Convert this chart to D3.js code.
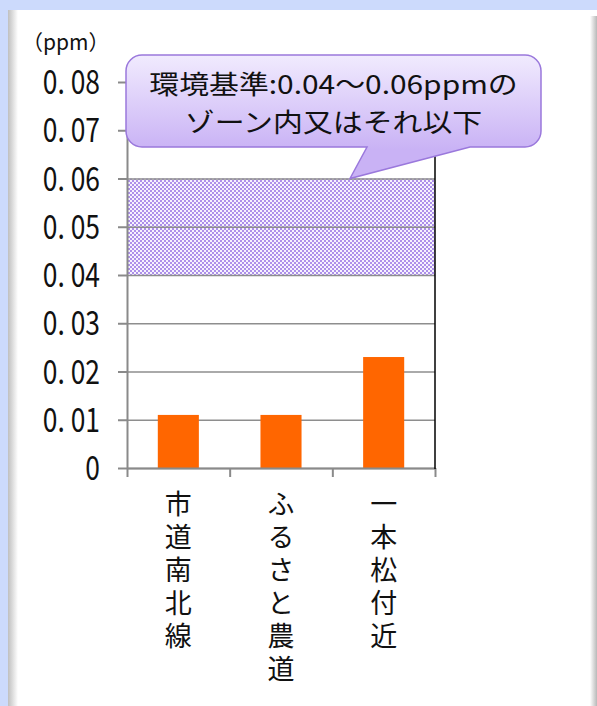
<!DOCTYPE html>
<html>
<head>
<meta charset="utf-8">
<script src="https://cdn.jsdelivr.net/npm/d3@7"></script>
<style>
  body { margin: 0; background: #ccdafc; }
  svg { display: block; }
  text { font-family: "Noto Sans CJK JP", "Noto Sans", sans-serif; fill: #111; }
  .vlabel { writing-mode: vertical-rl; text-orientation: upright; }
</style>
</head>
<body>
<div class="visContainer"></div>
<script>
// Data.
const categories = ['市道南北線', 'ふるさと農道', '一本松付近'];
const values = [0.011, 0.011, 0.023];
const yTicks = [0, 0.01, 0.02, 0.03, 0.04, 0.05, 0.06, 0.07, 0.08];
const zone = [0.04, 0.06];
const unitLabel = '（ppm）';
const noteLines = ['環境基準:0.04～0.06ppmの', 'ゾーン内又はそれ以下'];

// SVG constants.
const width = 597;
const height = 706;
const plot = { left: 127, right: 435, top: 82, bottom: 468 };

const svg = d3.select('.visContainer')
              .append('svg')
              .attr('width', width)
              .attr('height', height);

const defs = svg.append('defs');

// Checker pattern for the zone.
const pat = defs.append('pattern')
                .attr('id', 'checker')
                .attr('patternUnits', 'userSpaceOnUse')
                .attr('width', 4)
                .attr('height', 4);
pat.append('rect').attr('width', 4).attr('height', 4).attr('fill', '#f6f2fe');
pat.append('rect').attr('width', 2).attr('height', 2).attr('fill', '#ad90ea');
pat.append('rect').attr('x', 2).attr('y', 2).attr('width', 2).attr('height', 2).attr('fill', '#ad90ea');

// Callout gradient.
const grad = defs.append('linearGradient')
                 .attr('id', 'calloutGrad')
                 .attr('gradientUnits', 'userSpaceOnUse')
                 .attr('x1', 0).attr('x2', 0)
                 .attr('y1', 55).attr('y2', 150);
grad.append('stop').attr('offset', 0).attr('stop-color', '#f1ebfe');
grad.append('stop').attr('offset', 1).attr('stop-color', '#c9b2f5');

const shadowL = defs.append('linearGradient').attr('id', 'shadowL');
shadowL.append('stop').attr('offset', 0).attr('stop-color', '#bfbfbf');
shadowL.append('stop').attr('offset', 1).attr('stop-color', '#ffffff');

const shadowR = defs.append('linearGradient').attr('id', 'shadowR');
shadowR.append('stop').attr('offset', 0).attr('stop-color', '#ffffff');
shadowR.append('stop').attr('offset', 1).attr('stop-color', '#b8b8b8');

// Panel.
svg.append('rect').attr('x', 8).attr('y', 10).attr('width', width - 8).attr('height', height - 10).attr('fill', '#fff');
svg.append('rect').attr('x', 8).attr('y', 10).attr('width', 10).attr('height', height - 10).attr('fill', 'url(#shadowL)');
svg.append('rect').attr('x', 590).attr('y', 16).attr('width', 7).attr('height', height - 16).attr('fill', 'url(#shadowR)');

// Scales.
const x = d3.scaleBand()
            .domain(categories)
            .range([plot.left, plot.right])
            .paddingInner(0.6)
            .paddingOuter(0.3);

const y = d3.scaleLinear()
            .domain([0, 0.08])
            .range([plot.bottom, plot.top]);

// Zone.
svg.append('rect')
   .attr('x', plot.left)
   .attr('y', y(zone[1]))
   .attr('width', plot.right - plot.left)
   .attr('height', y(zone[0]) - y(zone[1]))
   .attr('fill', 'url(#checker)');

// Gridlines.
svg.append('g')
   .attr('transform', 'translate(' + plot.left + ',0)')
   .call(d3.axisLeft(y).tickValues(yTicks).tickSize(-(plot.right - plot.left)).tickFormat(''))
   .call(g => g.select('.domain').remove())
   .call(g => g.selectAll('line').attr('stroke', '#8e8e8e').attr('stroke-width', 1.5));

// Bars.
svg.append('g')
   .selectAll('rect')
   .data(values)
   .enter()
   .append('rect')
   .attr('x', (d, i) => x(categories[i]))
   .attr('y', (d) => y(d))
   .attr('width', x.bandwidth())
   .attr('height', (d) => y(0) - y(d))
   .attr('fill', '#ff6600');

// Y axis.
const fmt = (d) => d === 0 ? '0' : d.toFixed(2).replace('.', '. ');
const yAxis = svg.append('g')
   .attr('transform', 'translate(' + plot.left + ',0)')
   .call(d3.axisLeft(y).tickValues(yTicks).tickSize(9).tickSizeOuter(0).tickFormat(''));
yAxis.selectAll('path, line').attr('stroke', '#8a8a8a').attr('stroke-width', 2);

svg.append('g')
   .selectAll('text')
   .data(yTicks)
   .enter()
   .append('text')
   .attr('transform', (d) => 'translate(100,' + (y(d) + 12) + ') scale(0.8,1)')
   .attr('text-anchor', 'end')
   .style('font-size', '33px')
   .text(fmt);

// X axis (ticks at category boundaries).
const xb = d3.scaleLinear().domain([0, categories.length]).range([plot.left, plot.right]);
const xAxis = svg.append('g')
   .attr('transform', 'translate(0,' + plot.bottom + ')')
   .call(d3.axisBottom(xb).ticks(categories.length).tickSize(9).tickSizeOuter(0).tickFormat(''));
xAxis.selectAll('path, line').attr('stroke', '#8a8a8a').attr('stroke-width', 2);

// Right border.
svg.append('line')
   .attr('x1', plot.right).attr('x2', plot.right)
   .attr('y1', y(0.08)).attr('y2', y(0) + 1)
   .attr('stroke', '#000').attr('stroke-width', 1.5);

// Category labels, vertical.
svg.append('g')
   .selectAll('text')
   .data(categories)
   .enter()
   .append('text')
   .attr('class', 'vlabel')
   .attr('x', (d) => x(d) + x.bandwidth() / 2)
   .attr('y', 490)
   .style('font-size', '27px')
   .style('letter-spacing', '6px')
   .text((d) => d);

// Unit label.
svg.append('text')
   .attr('x', 22).attr('y', 50)
   .style('font-size', '21px')
   .text(unitLabel);

// Callout.
const cb = { x0: 126, y0: 55, x1: 541, y1: 147, r: 16 };
const tip = [350, y(zone[1])];
const p = d3.path();
p.moveTo(cb.x0 + cb.r, cb.y0);
p.lineTo(cb.x1 - cb.r, cb.y0);
p.arcTo(cb.x1, cb.y0, cb.x1, cb.y0 + cb.r, cb.r);
p.lineTo(cb.x1, cb.y1 - cb.r);
p.arcTo(cb.x1, cb.y1, cb.x1 - cb.r, cb.y1, cb.r);
p.lineTo(470, cb.y1);
p.lineTo(tip[0], tip[1]);
p.lineTo(367, cb.y1);
p.lineTo(cb.x0 + cb.r, cb.y1);
p.arcTo(cb.x0, cb.y1, cb.x0, cb.y1 - cb.r, cb.r);
p.lineTo(cb.x0, cb.y0 + cb.r);
p.arcTo(cb.x0, cb.y0, cb.x0 + cb.r, cb.y0, cb.r);
p.closePath();

svg.append('path')
   .attr('d', p.toString())
   .attr('fill', 'url(#calloutGrad)')
   .attr('stroke', '#9a78dc')
   .attr('stroke-width', 1.5);

svg.append('g')
   .selectAll('text')
   .data(noteLines)
   .enter()
   .append('text')
   .attr('transform', (d, i) => 'translate(' + (cb.x0 + cb.x1) / 2 + ',' + (94 + i * 38) + ') scale(1.15,1)')
   .attr('text-anchor', 'middle')
   .style('font-size', '26px')
   .text((d) => d);
</script>
</body>
</html>
